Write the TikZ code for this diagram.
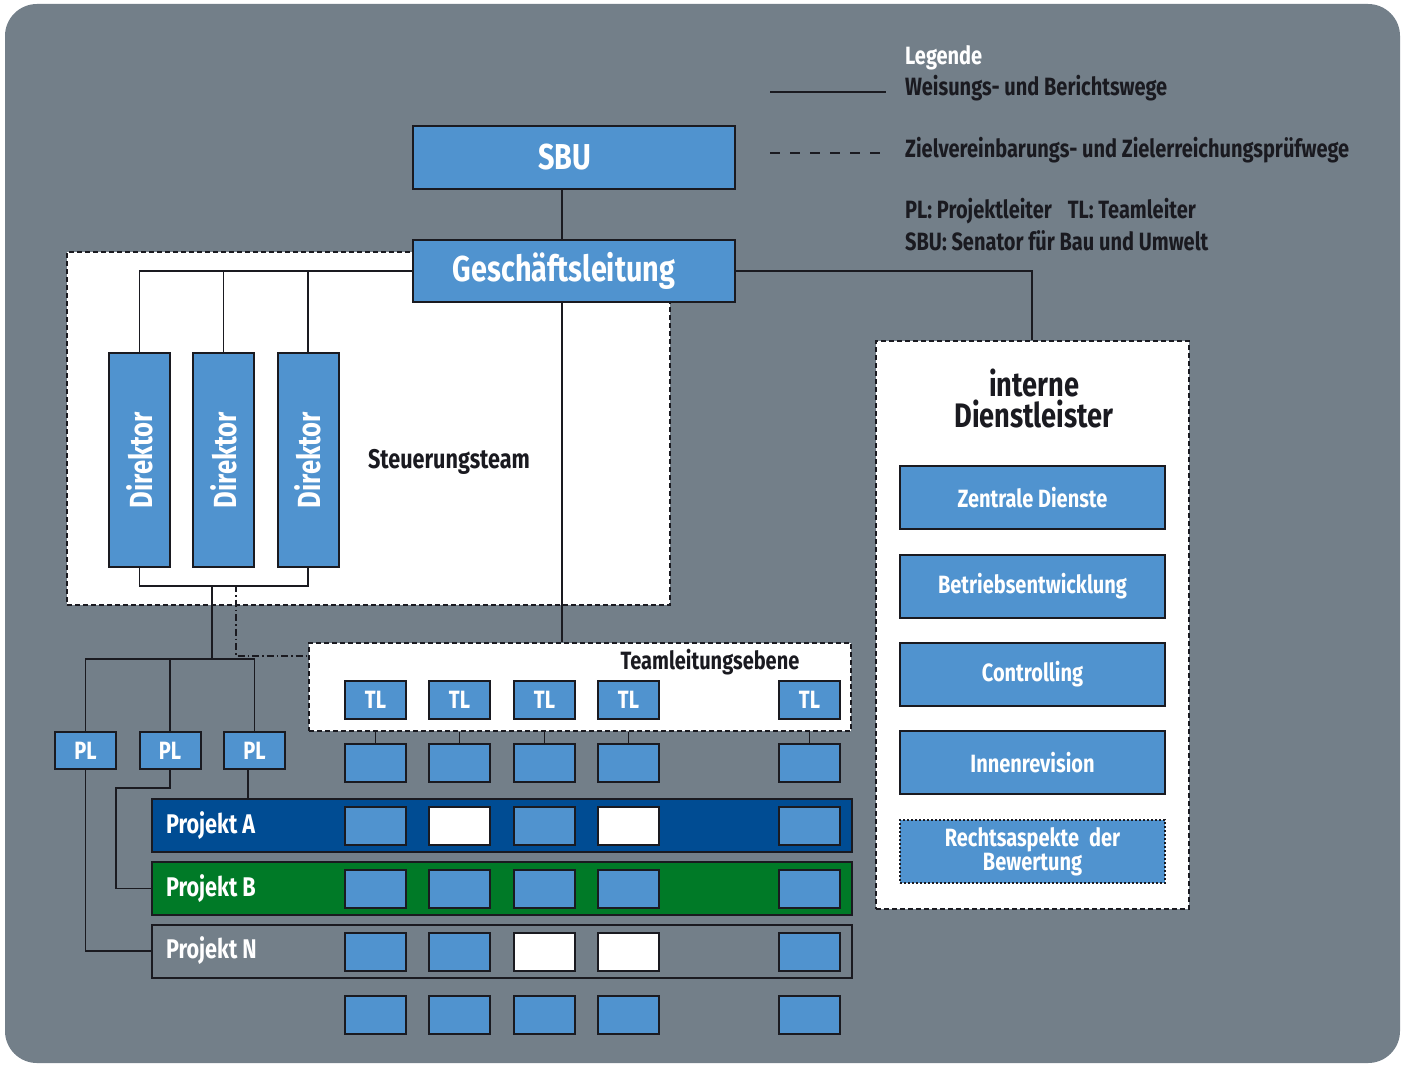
\documentclass[tikz,border=0pt]{standalone}
\usepackage{fontspec}
\setmainfont{Fira Sans}[FakeStretch=0.8]
\usetikzlibrary{calc}
\definecolor{bg}{HTML}{737F89}
\definecolor{bblue}{HTML}{5093CF}
\definecolor{pblue}{HTML}{004C93}
\definecolor{pgreen}{HTML}{007A27}
\definecolor{ink}{HTML}{1A1A20}
\tikzset{
  conn/.style={draw=ink, line width=1.8pt},
  dashconn/.style={draw=ink, line width=1.5pt, dash pattern=on 7pt off 3pt on 1.5pt off 3pt},
  areabox/.style={draw=ink, fill=white, line width=1.5pt, dash pattern=on 5pt off 3pt},
  bluebox/.style={draw=ink, fill=bblue, line width=2pt, text=white, inner sep=0pt, font=\bfseries},
  cell/.style={bluebox, minimum width=61pt, minimum height=38pt},
  wcell/.style={cell, fill=white},
  band/.style={draw=ink, line width=2pt, minimum height=53pt, text width=672pt, inner xsep=14pt, inner ysep=0pt, align=left, text=white, font=\bfseries\fontsize{27}{30}\selectfont},
  svc/.style={bluebox, minimum width=265pt, minimum height=63pt, font=\bfseries\fontsize{25}{26}\selectfont},
  lbl/.style={text=ink, font=\bfseries\fontsize{25}{30}\selectfont, inner sep=0pt, anchor=west},
}
\begin{document}
\begin{tikzpicture}[x=1pt,y=-1pt]
\useasboundingbox (0,0) rectangle (1402,1065);
\fill[white] (0,0) rectangle (1402,1065);
\fill[bg, rounded corners=32pt] (5,4) rectangle (1400,1063);

% legend
\node[lbl, text=white] (leg) at (905,58) {Legende};
\node[lbl] (leg1) at (905,88) {Weisungs- und Berichtswege};
\node[lbl] (leg2) at (905,150) {Zielvereinbarungs- und Zielerreichungsprüfwege};
\node[lbl] (leg3) at (905,211) {PL: Projektleiter\hspace{16pt}TL: Teamleiter};
\node[lbl] (leg4) at (905,241) {SBU: Senator für Bau und Umwelt};
\coordinate (ls1) at (770,92); \coordinate (le1) at (886,92);
\coordinate (ls2) at (770,153); \coordinate (le2) at (886,153);
\draw[conn] (ls1) -- (le1);
\draw[draw=ink, line width=1.8pt, dash pattern=on 10pt off 10pt] (ls2) -- (le2);

% areas
\node[areabox, minimum width=603pt, minimum height=353pt, inner sep=0pt] (st) at (368.5,428.5) {};
\node[text=ink, font=\bfseries\fontsize{27}{30}\selectfont] (stl) at (449,462) {Steuerungsteam};
\node[areabox, minimum width=542pt, minimum height=88pt, inner sep=0pt] (tle) at (580,687) {};
\node[text=ink, font=\bfseries\fontsize{25}{30}\selectfont] (tlel) at (710,662) {Teamleitungsebene};
\node[areabox, minimum width=313pt, minimum height=568pt, inner sep=0pt] (ids) at (1032.5,625) {};
\node[text=ink, align=center, font=\bfseries\fontsize{34}{31}\selectfont] (idsl) at (1034,398) {interne\\Dienstleister};

% top boxes
\node[bluebox, minimum width=322pt, minimum height=63pt, font=\bfseries\fontsize{36}{40}\selectfont] (sbu) at (574,157.5) {SBU\kern18pt};
\node[bluebox, minimum width=322pt, minimum height=62pt, font=\bfseries\fontsize{36}{40}\selectfont] (gl) at (574,271) {Geschäftsleitung\kern20pt};
\coordinate (gx) at (562,0);

% directors
\foreach \n/\x in {d1/139.5,d2/223.5,d3/308} {
  \node[bluebox, rotate=90, minimum width=214pt, minimum height=61pt, font=\bfseries\fontsize{32}{34}\selectfont] (\n) at (\x,460) {Direktor};
}

% TL
\foreach \n/\x in {tl1/375.5,tl2/459.5,tl3/544.5,tl4/628.5,tl5/809.5} {
  \node[cell, font=\bfseries\fontsize{25}{28}\selectfont] (\n) at (\x,700) {TL};
}
% PL
\foreach \n/\x in {pl1/85.5,pl2/170,pl3/254.5} {
  \node[cell, minimum height=37pt, font=\bfseries\fontsize{25}{28}\selectfont] (\n) at (\x,750.5) {PL};
}

% project bands
\node[band, fill=pblue] (pa) at (502,825.5) {Projekt\hspace{5pt}A};
\node[band, fill=pgreen] (pb) at (502,888.5) {Projekt\hspace{5pt}B};
\node[band, fill=bg] (pn) at (502,951) {Projekt\hspace{5pt}N};

% cells
\foreach \c/\x in {1/375.5,2/459.5,3/544.5,4/628.5,5/809.5} {
  \node[cell] (r0c\c) at (\x,762.5) {};
  \node[cell] (rnc\c) at (\x,1015) {};
}
\foreach \c/\x/\s in {1/375.5/cell,2/459.5/wcell,3/544.5/cell,4/628.5/wcell,5/809.5/cell} {
  \node[\s] (ra\c) at (\x,826) {};
}
\foreach \c/\x in {1/375.5,2/459.5,3/544.5,4/628.5,5/809.5} {
  \node[cell] (rb\c) at (\x,889) {};
}
\foreach \c/\x/\s in {1/375.5/cell,2/459.5/cell,3/544.5/wcell,4/628.5/wcell,5/809.5/cell} {
  \node[\s] (rn\c) at (\x,952) {};
}

% services
\node[svc] (s1) at (1032.5,497.5) {Zentrale Dienste};
\node[svc] (s2) at (1032.5,586.5) {Betriebsentwicklung};
\node[svc] (s3) at (1032.5,674.5) {Controlling};
\node[svc] (s4) at (1032.5,762.5) {Innenrevision};
\node[svc, dotted, line width=1.5pt, align=center, font=\bfseries\fontsize{25}{24}\selectfont] (s5) at (1032.5,851.5) {Rechtsaspekte\hspace{10pt}der\\Bewertung};

% connectors
\draw[conn] (sbu.south -| gx) -- (gl.north -| gx);
\draw[conn] (gl.west) -| (d1.east);
\draw[conn] (d2.east) -- (d2.east |- gl.west);
\draw[conn] (d3.east) -- (d3.east |- gl.west);
\draw[conn] (d1.west) -- ++(0,18) -| (d3.west);
\coordinate (bj) at (212,585);
\coordinate (plbus) at (212,659);
\coordinate (dj) at (236,585);
\coordinate (dk) at (236,656);
\draw[conn] (bj) -- (plbus);
\draw[conn] (pl1.north) -- (pl1.north |- plbus) -- (pl3.north |- plbus) -- (pl3.north);
\draw[conn] (pl2.north) -- (pl2.north |- plbus);
\draw[dashconn] (dj) -- (dk) -- (tle.west |- dk);
\draw[conn] (gl.south -| gx) -- (tle.north -| gx);
\coordinate (ix) at (1032,0);
\draw[conn] (gl.east) -| (ids.north -| ix);
\foreach \c in {1,2,3,4,5} { \draw[conn] (r0c\c.north) -- (r0c\c.north |- tle.south); }
\draw[conn] (pl1.south) |- (pn.west);
\coordinate (b1) at (170,788);
\coordinate (b2) at (116,788);
\draw[conn] (pl2.south) -- (b1) -- (b2) |- (pb.west);
\coordinate (ax) at (248,0);
\draw[conn] (pl3.south -| ax) -- (pa.north -| ax);
\end{tikzpicture}
\end{document}
